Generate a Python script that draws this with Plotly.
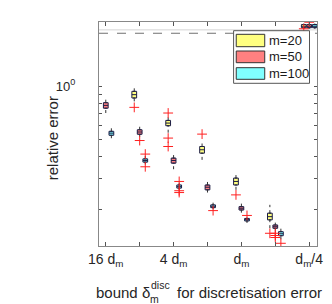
import math
import plotly.graph_objects as go

# ---------------- data ----------------
bounds = [16, 8, 4, 2, 1, 0.5, 0.25]          # bound in units of d_m
tick_labels = ["16 d<sub>m</sub>", "", "4 d<sub>m</sub>", "", "d<sub>m</sub>", "", "d<sub>m</sub>/4"]
ms = [20, 50, 100]
fill_colors = ["#ffff80", "#ff8080", "#80ffff"]

# box statistics per m (None = no box)
m20_lo  = [None, 0.822, 0.546, 0.383, 0.259, 0.157, 2.12]
m20_q1  = [None, 0.859, 0.598, 0.418, 0.276, 0.175, 2.15]
m20_med = [None, 0.897, 0.619, 0.437, 0.289, 0.1825, 2.19]
m20_q3  = [None, 0.937, 0.641, 0.456, 0.302, 0.191, 2.24]
m20_hi  = [None, 0.992, 0.686, 0.485, 0.325, 0.213, 2.27]

m50_lo  = [0.706, 0.518, 0.339, 0.250, 0.1923, 0.152, 2.12]
m50_q1  = [0.752, 0.535, 0.367, 0.259, 0.199, 0.1568, 2.15]
m50_med = [0.780, 0.551, 0.380, 0.268, 0.2037, 0.160, 2.19]
m50_q3  = [0.808, 0.5675, 0.392, 0.276, 0.208, 0.1637, 2.24]
m50_hi  = [0.859, 0.606, 0.418, 0.291, 0.2176, 0.1688, 2.27]

m100_lo  = [0.508, 0.361, 0.259, 0.201, 0.1681, 0.1358, 2.12]
m100_q1  = [0.528, 0.372, 0.265, 0.2053, 0.1726, 0.1423, 2.15]
m100_med = [0.543, 0.380, 0.270, 0.209, 0.1755, 0.146, 2.19]
m100_q3  = [0.556, 0.388, 0.276, 0.2128, 0.1783, 0.150, 2.24]
m100_hi  = [0.582, 0.404, 0.284, 0.219, 0.1806, 0.160, 2.27]

# outliers (bound, value)
m20_out  = [(8, 0.760), (4, 0.706), (4, 0.509), (4, 0.456), (2, 0.536),
            (1, 0.2425), (0.5, 0.1469), (0.25, 2.12)]
m50_out  = [(8, 0.493), (0.5, 0.1469), (0.5, 0.1427), (0.5, 0.139), (0.25, 2.31)]
m100_out = [(8, 0.413), (8, 0.350), (4, 0.289), (4, 0.256), (4, 0.250),
            (2, 0.1975), (1, 0.1854), (0.5, 0.1289)]

failure_level = 2.0
break_level = 2.09

stats = [
    (m20_lo, m20_q1, m20_med, m20_q3, m20_hi, m20_out),
    (m50_lo, m50_q1, m50_med, m50_q3, m50_hi, m50_out),
    (m100_lo, m100_q1, m100_med, m100_q3, m100_hi, m100_out),
]
offsets = [-0.16, 0.0, 0.165]


def xpos(b, k):
    return -math.log2(b) + offsets[k]


fig = go.Figure()

for k, (lo, q1, med, q3, hi, outl) in enumerate(stats):
    idx = [i for i in range(len(bounds)) if q1[i] is not None]
    xs = [xpos(bounds[i], k) for i in idx]
    # whiskers (dotted)
    wx, wy = [], []
    for i, x in zip(idx, xs):
        wx += [x, x, None, x, x, None]
        wy += [lo[i], q1[i], None, q3[i], hi[i], None]
    fig.add_trace(go.Scatter(x=wx, y=wy, mode="lines", showlegend=False, hoverinfo="skip",
                             line=dict(color="#333333", width=1, dash="dot")))
    fig.add_trace(go.Box(
        x=xs,
        q1=[q1[i] for i in idx], median=[med[i] for i in idx], q3=[q3[i] for i in idx],
        lowerfence=[q1[i] for i in idx], upperfence=[q3[i] for i in idx],
        width=0.14, fillcolor=fill_colors[k], line=dict(color="#1c1c44", width=1),
        boxpoints=False, showlegend=False, name=f"m={ms[k]}",
    ))
    fig.add_trace(go.Scatter(
        x=[xpos(b, k) for b, v in outl], y=[v for b, v in outl], mode="markers",
        showlegend=False, hoverinfo="skip",
        marker=dict(symbol="cross-thin-open", size=7, color="#ff2020",
                    line=dict(color="#ff2020", width=1)),
    ))

# ---------------- layout ----------------
W, H = 332, 304
L, R, T, B = 99, 9, 22, 58
pw, ph = W - L - R, H - T - B


def px(x):
    return (x - L) / pw


def py(y):
    return (H - B - y) / ph


font_family = "Liberation Sans, Arial, Helvetica, sans-serif"
ann = []
# axis titles
ann.append(dict(text="relative error", x=px(51), y=py(138), xref="paper", yref="paper",
                xanchor="center", yanchor="middle",
                textangle=-90, showarrow=False, font=dict(size=15, color="#262626")))
ann.append(dict(text="bound δ", x=px(153.5), y=py(292.5), xref="paper", yref="paper",
                xanchor="right", yanchor="middle", showarrow=False, font=dict(size=15, color="#262626")))
ann.append(dict(text="disc", x=px(150.5), y=py(285), xref="paper", yref="paper",
                xanchor="left", yanchor="middle", showarrow=False, font=dict(size=10.5, color="#262626")))
ann.append(dict(text="m", x=px(149.5), y=py(298.5), xref="paper", yref="paper",
                xanchor="left", yanchor="middle", showarrow=False, font=dict(size=10.5, color="#262626")))
ann.append(dict(text="for discretisation error", x=px(177), y=py(292.5), xref="paper", yref="paper",
                xanchor="left", yanchor="middle", showarrow=False, font=dict(size=15, color="#262626")))

shapes = []
# reference lines
shapes.append(dict(type="line", xref="paper", x0=0, x1=1, yref="y",
                   y0=break_level, y1=break_level,
                   line=dict(color="#d4d4d4", width=1), layer="below"))
shapes.append(dict(type="line", xref="paper", x0=0, x1=1, yref="y",
                   y0=failure_level, y1=failure_level,
                   line=dict(color="#707070", width=1, dash="dash"), layer="below"))
# legend
shapes.append(dict(type="rect", xref="paper", yref="paper", x0=px(237.3), x1=px(315.3),
                   y0=py(83.3), y1=py(30.7), fillcolor="white", line=dict(color="#555555", width=1)))
patch_y = [(34.3, 46.7), (51, 62.7), (67.7, 79.3)]
for k in range(3):
    y0, y1 = patch_y[k]
    shapes.append(dict(type="rect", xref="paper", yref="paper", x0=px(240), x1=px(269.3),
                       y0=py(y1), y1=py(y0), fillcolor=fill_colors[k], line=dict(color="#333333", width=1)))
    ann.append(dict(text=f"m={ms[k]}", x=px(271.5), y=py((y0 + y1) / 2), xref="paper", yref="paper",
                    xanchor="left", yanchor="middle", showarrow=False, font=dict(size=13, color="#1a1a1a")))

fig.update_layout(
    width=W, height=H, margin=dict(l=L, r=R, t=T, b=B),
    paper_bgcolor="white", plot_bgcolor="white",
    font=dict(family=font_family, size=13, color="#262626"),
    boxmode="overlay", showlegend=False,
    annotations=ann, shapes=shapes,
)
fig.update_xaxes(
    range=[-4.2, 2.23], tickmode="array",
    tickvals=[-math.log2(b) for b in bounds], ticktext=tick_labels,
    ticks="inside", ticklen=4, tickcolor="#555555", mirror="ticks",
    showline=True, linecolor="#888888", linewidth=1, showgrid=False, zeroline=False,
    tickfont=dict(size=14),
)
y_ticks = [0.2, 0.3, 0.4, 0.5, 0.6, 0.7, 0.8, 0.9, 1.0]
fig.update_yaxes(
    type="log", range=[-0.9051, 0.3648], tickmode="array",
    tickvals=y_ticks, ticktext=["" for _ in y_ticks[:-1]] + ["10<sup>0</sup>"],
    ticks="inside", ticklen=3, tickcolor="#555555", mirror="ticks",
    showline=True, linecolor="#888888", linewidth=1, showgrid=False, zeroline=False,
    tickfont=dict(size=13), ticklabelstandoff=20,
)

fig.write_html("out.html", config={"displayModeBar": False},
               post_script="document.body.style.margin='0';")
